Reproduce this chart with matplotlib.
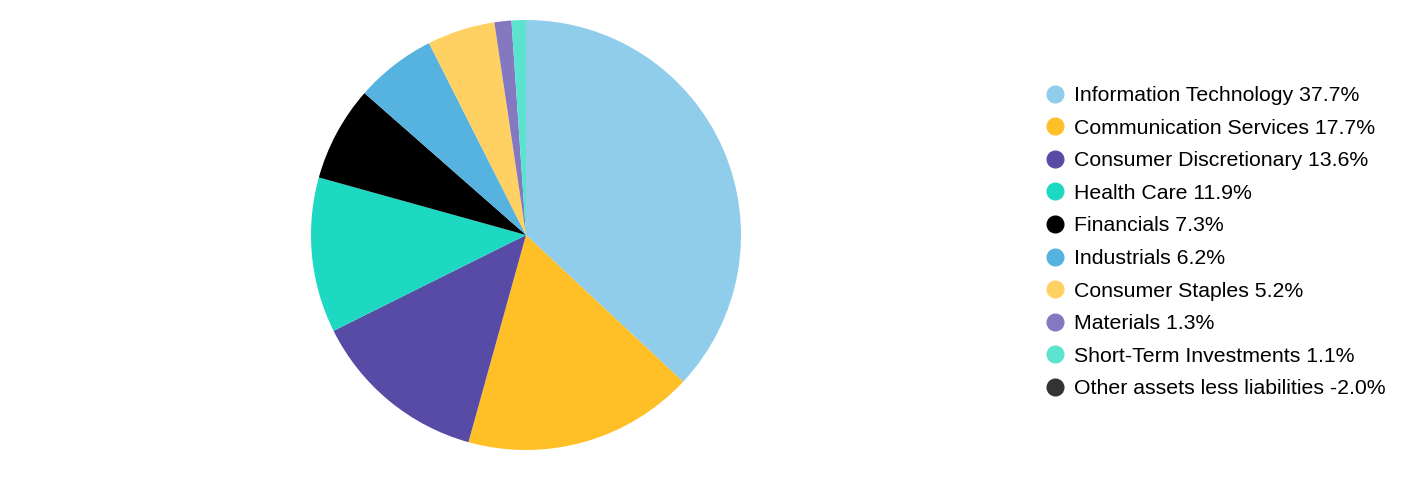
import matplotlib
matplotlib.use("Agg")
import matplotlib.pyplot as plt
from matplotlib.lines import Line2D

plt.rcParams['font.family'] = ['Liberation Sans', 'DejaVu Sans']

# sector weights (%)
sectors = ["Information Technology", "Communication Services", "Consumer Discretionary",
           "Health Care", "Financials", "Industrials", "Consumer Staples", "Materials",
           "Short-Term Investments", "Other assets less liabilities"]
weights = [37.7, 17.7, 13.6, 11.9, 7.3, 6.2, 5.2, 1.3, 1.1, -2.0]
colors = ["#8FCDEB", "#FFBF27", "#584BA5", "#1DD9C2", "#000000", "#56B3DF",
          "#FFD062", "#8479C1", "#5BE3D0", "#333333"]

fig = plt.figure(figsize=(14.28, 4.8), dpi=100)
ax = fig.add_axes([311 / 1428, 30 / 480, 430 / 1428, 430 / 480])

# only positive weights go in the pie
pos = [(w, c) for w, c in zip(weights, colors) if w > 0]
ax.pie([p[0] for p in pos], colors=[p[1] for p in pos], startangle=90,
       counterclock=False, radius=1)
ax.set_xlim(-1, 1)
ax.set_ylim(-1, 1)
ax.set_aspect("equal")
ax.axis("off")

handles = [Line2D([], [], marker="o", linestyle="", markersize=12,
                  markerfacecolor=c, markeredgecolor=c) for c in colors]
labels = [f"{s} {w:.1f}%" for s, w in zip(sectors, weights)]
fig.legend(handles, labels, loc="upper left", bbox_to_anchor=(1046 / 1428, 1 - 86 / 480),
           frameon=False, fontsize=15.3, handlelength=0.8, handletextpad=0.54,
           labelspacing=0.64, borderpad=0, borderaxespad=0)

fig.savefig("out.png", dpi=100)
